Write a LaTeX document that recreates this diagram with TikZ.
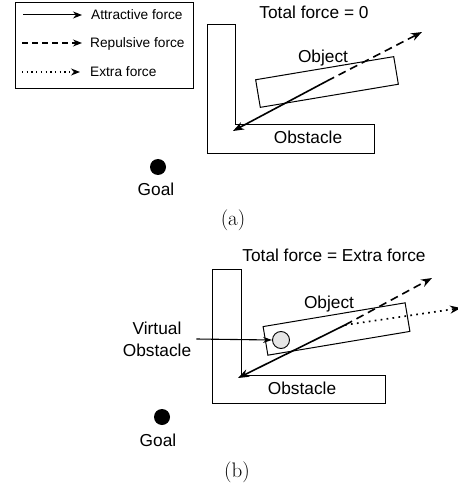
\documentclass[tikz,border=0pt]{standalone}
\usepackage{fontspec}
\newfontfamily\sansf{Liberation Sans}
\usetikzlibrary{arrows.meta}
\begin{document}
\begin{tikzpicture}[x=1pt,y=-1pt,
  lbl/.style={font=\sansf\fontsize{17.3}{20}\selectfont, inner sep=0pt, anchor=base},
  legtxt/.style={font=\sansf\fontsize{13.7}{16}\selectfont, inner sep=0pt, anchor=base west},
  captxt/.style={font=\fontsize{21}{23}\selectfont, inner sep=0pt},
  obst/.style={draw, line width=1pt, line join=miter},
  objbox/.style={draw, line width=1pt, inner sep=0pt, rotate=9.5},
  attr/.style={-{Stealth[length=11pt,width=8pt]}, line width=1.6pt},
  rep/.style={attr, dash pattern=on 8pt off 5pt},
  xtra/.style={attr, line width=1.7pt, dash pattern=on 1.7pt off 4.3pt},
  legattr/.style={-{Stealth[length=9pt,width=7pt]}, line width=1pt},
  legrep/.style={legattr, line width=1.2pt, dash pattern=on 6pt off 4pt},
  legxtra/.style={legattr, line width=1.2pt, dash pattern=on 1.3pt off 3.4pt},
  goaldot/.style={circle, fill=black, minimum size=16pt, inner sep=0pt},
]
\useasboundingbox (0,0) rectangle (457,486);

% ---------- legend ----------
\node[draw, line width=0.9pt, minimum width=178pt, minimum height=86pt, inner sep=0pt, anchor=north west] (legend) at (15,2) {};
\coordinate (la1) at (23,15); \coordinate (la2) at (82,15);
\coordinate (lr1) at (22,43); \coordinate (lr2) at (82,43);
\coordinate (lx1) at (22,72); \coordinate (lx2) at (80,72);
\draw[legattr] (la1) -- (la2);
\draw[legrep] (lr1) -- (lr2);
\draw[legxtra] (lx1) -- (lx2);
\node[legtxt] (lta) at (91,20) {Attractive force};
\node[legtxt] (ltr) at (90,48) {Repulsive force};
\node[legtxt] (ltx) at (90,77) {Extra force};

% ---------- (a) ----------
\node[lbl] (totA) at (314,19) {Total force = 0};
\draw[obst] (207,25) -- (235,25) -- (235,125) -- (374,125) -- (374,154) -- (207,154) -- cycle;
\node[lbl] (obsA) at (308,144) {Obstacle};
\node[objbox, minimum width=140pt, minimum height=28pt] (objA) at (327,82) {};
\node[lbl] (objAt) at (323,63) {Object};
\coordinate (cA) at (327,81);
\coordinate (tA1) at (233,131);
\coordinate (tA2) at (422,32);
\draw[attr] (cA) -- (tA1);
\draw[rep] (cA) -- (tA2);
\node[goaldot] (goalA) at (158,167) {};
\node[lbl] (goalAt) at (156,195) {Goal};
\node[captxt] (capA) at (233,220) {(a)};

% ---------- (b) ----------
\node[lbl] (totB) at (334,261) {Total force = Extra force};
\draw[obst] (212,269) -- (241,269) -- (241,375) -- (385,375) -- (385,403) -- (212,403) -- cycle;
\node[lbl] (obsB) at (302,394) {Obstacle};
\node[objbox, minimum width=144pt, minimum height=29pt] (objB) at (336.5,329) {};
\node[lbl] (objBt) at (329,308) {Object};
\node[circle, draw, line width=0.9pt, fill=gray!20, minimum size=17pt, inner sep=0pt] (virt) at (281,340) {};
\node[font=\sansf\fontsize{17.3}{22}\selectfont, inner sep=0pt, align=center] (virtt) at (157,339) {Virtual\\Obstacle};
\coordinate (vs) at ([xshift=5pt]virtt.east);
\draw[-{Stealth[length=9pt,width=6pt]}, line width=1.1pt] (vs) -- (virt.west);
\coordinate (cB) at (345,325);
\coordinate (tB1) at (238,378);
\coordinate (tB2) at (432,278);
\coordinate (tB3) at (461,308);
\draw[xtra] (cB) -- (tB3);
\draw[attr] (cB) -- (tB1);
\draw[rep] (cB) -- (tB2);
\node[goaldot] (goalB) at (162,417) {};
\node[lbl] (goalBt) at (158,446) {Goal};
\node[captxt] (capB) at (237,472) {(b)};
\end{tikzpicture}
\end{document}
